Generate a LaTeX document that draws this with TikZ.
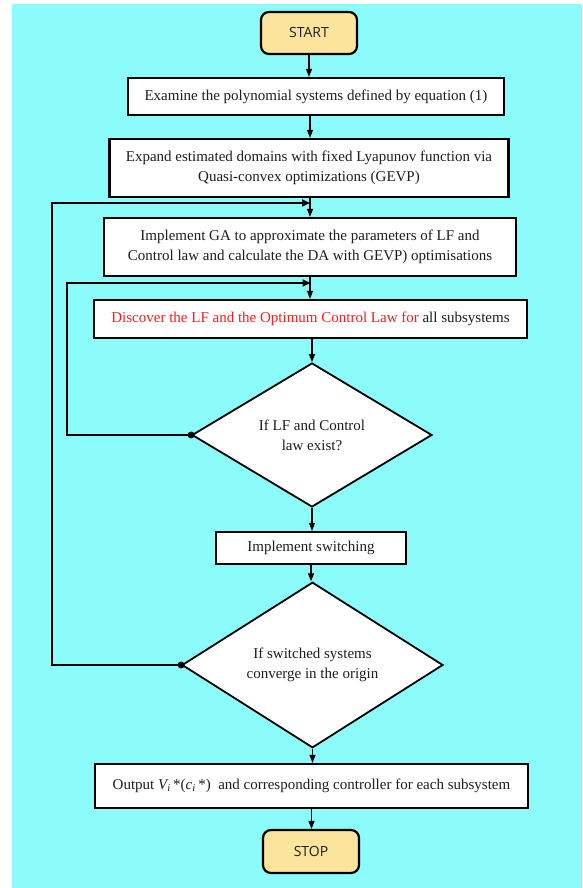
\documentclass[tikz,border=0pt]{standalone}
\usepackage{fontspec}
\setmainfont{Liberation Serif}
\newfontfamily\termfont{Open Sans}
\usetikzlibrary{shapes.geometric,arrows.meta}
\definecolor{bgcyan}{RGB}{140,252,250}
\definecolor{termyellow}{RGB}{252,228,156}
\definecolor{redtxt}{RGB}{245,30,30}
\definecolor{txtgray}{RGB}{30,30,30}
\begin{document}
\begin{tikzpicture}[x=1pt,y=-1pt,
  box/.style={draw=black,line width=2.2pt,fill=white,rectangle,inner sep=0pt,align=center,text=txtgray,font=\fontsize{15}{20}\selectfont},
  term/.style={draw=black,line width=2.2pt,fill=termyellow,rounded corners=8pt,inner sep=0pt,text=txtgray,font=\termfont\fontsize{14}{16}\selectfont},
  decision/.style={draw=black,line width=1.8pt,fill=white,diamond,inner sep=0pt,align=center,text=txtgray,font=\fontsize{15}{20}\selectfont},
  flow/.style={line width=1.2pt,-{Triangle[length=8pt,width=6pt]}},
  loopline/.style={line width=2pt,-{Triangle[length=8pt,width=7pt]}},
  ]
\useasboundingbox (0,0) rectangle (582,888);
\fill[bgcyan] (12,4) rectangle (582,888);

\node[term, minimum width=96pt, minimum height=42pt] (start) at (309,33) {START};
\node[box, minimum width=376pt, minimum height=37pt] (exam) at (316,96.5) {Examine the polynomial systems defined by equation (1)};
\node[box, minimum width=399pt, minimum height=58pt] (expd) at (309,168) {Expand estimated domains with fixed Lyapunov function via\\Quasi-convex optimizations (GEVP)};
\node[box, minimum width=412pt, minimum height=58pt] (ga) at (310,247) {Implement GA to approximate the parameters of LF and\\Control law and calculate the DA with GEVP) optimisations};
\node[box, minimum width=433pt, minimum height=38pt] (disc) at (310.5,319) {\textcolor{redtxt}{Discover the LF and the Optimum Control Law for} all subsystems};
\node[decision, minimum width=240pt, minimum height=144pt] (d1) at (312,435) {If LF and Control\\law exist?};
\node[box, minimum width=190pt, minimum height=32pt] (sw) at (311,548) {Implement switching};
\node[decision, minimum width=261pt, minimum height=150pt] (d2) at (312.5,665) {If switched systems\\converge in the origin};
\node[box, minimum width=433pt, minimum height=44pt] (out) at (311.5,786) {Output {\itshape V\textsubscript{i}}\,*({\itshape c\textsubscript{i}}\,*)\ \ and corresponding controller for each subsystem};
\node[term, minimum width=96pt, minimum height=43pt] (stop) at (311,851.5) {STOP};

\draw[flow] (start.south) -- (start.south |- exam.north);
\draw[flow] (ga.north |- exam.south) -- (ga.north |- expd.north);
\draw[flow] (ga.north |- expd.south) -- (ga.north);
\draw[flow] (ga.south) -- (ga.south |- disc.north);
\draw[flow] (d1.north |- disc.south) -- (d1.north);
\draw[flow] (d1.south) -- (d1.south |- sw.north);
\draw[flow] (sw.south) -- (sw.south |- d2.north);
\draw[flow] (d2.south) -- (d2.south |- out.north);
\draw[flow] (out.south) -- (out.south |- stop.north);

\coordinate (o1) at (52,665);
\coordinate (o2) at (52,203);
\coordinate (j1) at (ga.north |- o2);
\draw[loopline] (d2.west) -- (d2.west -| o1) -- (o2) -- (j1);
\fill (d2.west) circle (3.5pt);

\coordinate (i1) at (67,435);
\coordinate (i2) at (67,283);
\coordinate (j2) at (disc.north |- i2);
\draw[loopline] (d1.west) -- (d1.west -| i1) -- (i2) -- (j2);
\fill (d1.west) circle (3.5pt);
\end{tikzpicture}
\end{document}
